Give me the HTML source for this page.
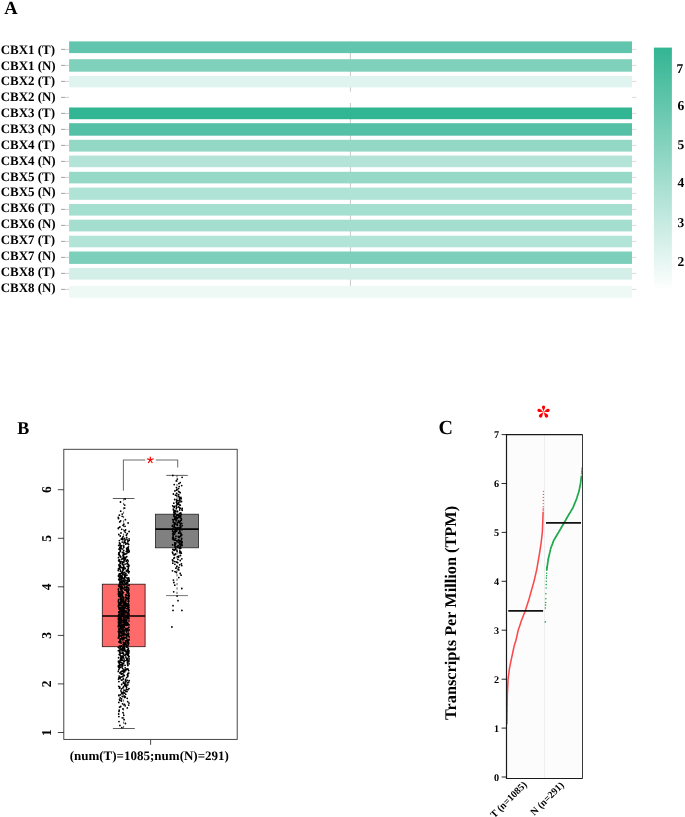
<!DOCTYPE html>
<html><head><meta charset="utf-8"><title>Figure</title>
<style>
html,body{margin:0;padding:0;background:#fff;}
body{width:685px;height:817px;overflow:hidden;font-family:"Liberation Serif",serif;}
svg{display:block;position:absolute;left:0;top:0;}
text{font-family:"Liberation Serif",serif;font-weight:bold;fill:#000;text-rendering:geometricPrecision;}
svg{will-change:transform;opacity:0.999;}
.s{font-family:"Liberation Sans",sans-serif;font-weight:normal;}
</style></head><body>
<svg width="685" height="817" viewBox="0 0 685 817">
<defs><linearGradient id="cb" x1="0" y1="0" x2="0" y2="1"><stop offset="0" stop-color="#33b593"/><stop offset="1" stop-color="#ffffff"/></linearGradient></defs>
<rect width="685" height="817" fill="#fff"/>
<text x="4.2" y="13.8" font-size="18.5">A</text>
<line x1="350.4" y1="41.4" x2="350.4" y2="286" stroke="#c9c9c9" stroke-width="1"/>
<rect x="69.1" y="41.4" width="562.9" height="11.7" fill="#62c6ae"/>
<rect x="69.1" y="59.2" width="562.9" height="12.5" fill="#80d1bc"/>
<rect x="69.1" y="76.0" width="562.9" height="11.4" fill="#dff4ee"/>
<rect x="69.1" y="91.7" width="562.9" height="11.3" fill="#ffffff"/>
<rect x="69.1" y="107.5" width="562.9" height="11.7" fill="#32b592"/>
<rect x="69.1" y="123.2" width="562.9" height="12.5" fill="#54c1a6"/>
<rect x="69.1" y="139.8" width="562.9" height="11.8" fill="#92d8c5"/>
<rect x="69.1" y="155.6" width="562.9" height="11.6" fill="#b3e4d7"/>
<rect x="69.1" y="171.8" width="562.9" height="11.6" fill="#96d9c7"/>
<rect x="69.1" y="187.6" width="562.9" height="12.2" fill="#afe3d5"/>
<rect x="69.1" y="204.0" width="562.9" height="11.6" fill="#a5dfd0"/>
<rect x="69.1" y="219.7" width="562.9" height="11.7" fill="#a3dece"/>
<rect x="69.1" y="235.7" width="562.9" height="11.6" fill="#b3e4d8"/>
<rect x="69.1" y="251.5" width="562.9" height="12.4" fill="#7ccfba"/>
<rect x="69.1" y="267.9" width="562.9" height="11.7" fill="#d3efe7"/>
<rect x="69.1" y="285.9" width="562.9" height="11.9" fill="#eef9f6"/>
<line x1="61" y1="49.4" x2="65" y2="49.4" stroke="#7a7a7a" stroke-width="0.7"/><line x1="65" y1="49.4" x2="69.1" y2="49.4" stroke="#bdbdbd" stroke-width="0.7"/><line x1="632" y1="49.4" x2="636.3" y2="49.4" stroke="#cfcfcf" stroke-width="0.7"/><text x="0.7" y="53.70" font-size="12.95">CBX1 (T)</text>
<line x1="61" y1="65.4" x2="65" y2="65.4" stroke="#7a7a7a" stroke-width="0.7"/><line x1="65" y1="65.4" x2="69.1" y2="65.4" stroke="#bdbdbd" stroke-width="0.7"/><line x1="632" y1="65.4" x2="636.3" y2="65.4" stroke="#cfcfcf" stroke-width="0.7"/><text x="0.7" y="69.56" font-size="12.95">CBX1 (N)</text>
<line x1="61" y1="81.4" x2="65" y2="81.4" stroke="#7a7a7a" stroke-width="0.7"/><line x1="65" y1="81.4" x2="69.1" y2="81.4" stroke="#bdbdbd" stroke-width="0.7"/><line x1="632" y1="81.4" x2="636.3" y2="81.4" stroke="#cfcfcf" stroke-width="0.7"/><text x="0.7" y="85.42" font-size="12.95">CBX2 (T)</text>
<line x1="61" y1="97.4" x2="65" y2="97.4" stroke="#7a7a7a" stroke-width="0.7"/><line x1="65" y1="97.4" x2="69.1" y2="97.4" stroke="#bdbdbd" stroke-width="0.7"/><line x1="632" y1="97.4" x2="636.3" y2="97.4" stroke="#cfcfcf" stroke-width="0.7"/><text x="0.7" y="101.28" font-size="12.95">CBX2 (N)</text>
<line x1="61" y1="113.4" x2="65" y2="113.4" stroke="#7a7a7a" stroke-width="0.7"/><line x1="65" y1="113.4" x2="69.1" y2="113.4" stroke="#bdbdbd" stroke-width="0.7"/><line x1="632" y1="113.4" x2="636.3" y2="113.4" stroke="#cfcfcf" stroke-width="0.7"/><text x="0.7" y="117.14" font-size="12.95">CBX3 (T)</text>
<line x1="61" y1="129.4" x2="65" y2="129.4" stroke="#7a7a7a" stroke-width="0.7"/><line x1="65" y1="129.4" x2="69.1" y2="129.4" stroke="#bdbdbd" stroke-width="0.7"/><line x1="632" y1="129.4" x2="636.3" y2="129.4" stroke="#cfcfcf" stroke-width="0.7"/><text x="0.7" y="133.00" font-size="12.95">CBX3 (N)</text>
<line x1="61" y1="145.4" x2="65" y2="145.4" stroke="#7a7a7a" stroke-width="0.7"/><line x1="65" y1="145.4" x2="69.1" y2="145.4" stroke="#bdbdbd" stroke-width="0.7"/><line x1="632" y1="145.4" x2="636.3" y2="145.4" stroke="#cfcfcf" stroke-width="0.7"/><text x="0.7" y="148.86" font-size="12.95">CBX4 (T)</text>
<line x1="61" y1="161.4" x2="65" y2="161.4" stroke="#7a7a7a" stroke-width="0.7"/><line x1="65" y1="161.4" x2="69.1" y2="161.4" stroke="#bdbdbd" stroke-width="0.7"/><line x1="632" y1="161.4" x2="636.3" y2="161.4" stroke="#cfcfcf" stroke-width="0.7"/><text x="0.7" y="164.72" font-size="12.95">CBX4 (N)</text>
<line x1="61" y1="177.4" x2="65" y2="177.4" stroke="#7a7a7a" stroke-width="0.7"/><line x1="65" y1="177.4" x2="69.1" y2="177.4" stroke="#bdbdbd" stroke-width="0.7"/><line x1="632" y1="177.4" x2="636.3" y2="177.4" stroke="#cfcfcf" stroke-width="0.7"/><text x="0.7" y="180.58" font-size="12.95">CBX5 (T)</text>
<line x1="61" y1="193.4" x2="65" y2="193.4" stroke="#7a7a7a" stroke-width="0.7"/><line x1="65" y1="193.4" x2="69.1" y2="193.4" stroke="#bdbdbd" stroke-width="0.7"/><line x1="632" y1="193.4" x2="636.3" y2="193.4" stroke="#cfcfcf" stroke-width="0.7"/><text x="0.7" y="196.44" font-size="12.95">CBX5 (N)</text>
<line x1="61" y1="209.4" x2="65" y2="209.4" stroke="#7a7a7a" stroke-width="0.7"/><line x1="65" y1="209.4" x2="69.1" y2="209.4" stroke="#bdbdbd" stroke-width="0.7"/><line x1="632" y1="209.4" x2="636.3" y2="209.4" stroke="#cfcfcf" stroke-width="0.7"/><text x="0.7" y="212.30" font-size="12.95">CBX6 (T)</text>
<line x1="61" y1="225.4" x2="65" y2="225.4" stroke="#7a7a7a" stroke-width="0.7"/><line x1="65" y1="225.4" x2="69.1" y2="225.4" stroke="#bdbdbd" stroke-width="0.7"/><line x1="632" y1="225.4" x2="636.3" y2="225.4" stroke="#cfcfcf" stroke-width="0.7"/><text x="0.7" y="228.16" font-size="12.95">CBX6 (N)</text>
<line x1="61" y1="241.4" x2="65" y2="241.4" stroke="#7a7a7a" stroke-width="0.7"/><line x1="65" y1="241.4" x2="69.1" y2="241.4" stroke="#bdbdbd" stroke-width="0.7"/><line x1="632" y1="241.4" x2="636.3" y2="241.4" stroke="#cfcfcf" stroke-width="0.7"/><text x="0.7" y="244.02" font-size="12.95">CBX7 (T)</text>
<line x1="61" y1="257.4" x2="65" y2="257.4" stroke="#7a7a7a" stroke-width="0.7"/><line x1="65" y1="257.4" x2="69.1" y2="257.4" stroke="#bdbdbd" stroke-width="0.7"/><line x1="632" y1="257.4" x2="636.3" y2="257.4" stroke="#cfcfcf" stroke-width="0.7"/><text x="0.7" y="259.88" font-size="12.95">CBX7 (N)</text>
<line x1="61" y1="273.4" x2="65" y2="273.4" stroke="#7a7a7a" stroke-width="0.7"/><line x1="65" y1="273.4" x2="69.1" y2="273.4" stroke="#bdbdbd" stroke-width="0.7"/><line x1="632" y1="273.4" x2="636.3" y2="273.4" stroke="#cfcfcf" stroke-width="0.7"/><text x="0.7" y="275.74" font-size="12.95">CBX8 (T)</text>
<line x1="61" y1="289.4" x2="65" y2="289.4" stroke="#7a7a7a" stroke-width="0.7"/><line x1="65" y1="289.4" x2="69.1" y2="289.4" stroke="#bdbdbd" stroke-width="0.7"/><line x1="632" y1="289.4" x2="636.3" y2="289.4" stroke="#cfcfcf" stroke-width="0.7"/><text x="0.7" y="291.60" font-size="12.95">CBX8 (N)</text>
<rect x="653.9" y="47.6" width="18" height="243" fill="url(#cb)"/>
<text x="676.6" y="72.5" font-size="13.5">7</text>
<text x="677.6" y="109.8" font-size="13.5">6</text>
<text x="677.6" y="148.8" font-size="13.5">5</text>
<text x="677.6" y="187.2" font-size="13.5">4</text>
<text x="677.6" y="226.8" font-size="13.5">3</text>
<text x="677.6" y="265.8" font-size="13.5">2</text>
<text x="17.2" y="433.7" font-size="18">B</text>
<rect x="63.8" y="449.3" width="173.4" height="290.1" fill="none" stroke="#333" stroke-width="0.9"/>
<line x1="57.8" y1="732.5" x2="64" y2="732.5" stroke="#333" stroke-width="0.9"/><text transform="translate(50.6,732.5) rotate(-90)" text-anchor="middle" font-size="13.5">1</text>
<line x1="57.8" y1="683.9" x2="64" y2="683.9" stroke="#333" stroke-width="0.9"/><text transform="translate(50.6,683.9) rotate(-90)" text-anchor="middle" font-size="13.5">2</text>
<line x1="57.8" y1="635.4" x2="64" y2="635.4" stroke="#333" stroke-width="0.9"/><text transform="translate(50.6,635.4) rotate(-90)" text-anchor="middle" font-size="13.5">3</text>
<line x1="57.8" y1="586.8" x2="64" y2="586.8" stroke="#333" stroke-width="0.9"/><text transform="translate(50.6,586.8) rotate(-90)" text-anchor="middle" font-size="13.5">4</text>
<line x1="57.8" y1="538.3" x2="64" y2="538.3" stroke="#333" stroke-width="0.9"/><text transform="translate(50.6,538.3) rotate(-90)" text-anchor="middle" font-size="13.5">5</text>
<line x1="57.8" y1="489.7" x2="64" y2="489.7" stroke="#333" stroke-width="0.9"/><text transform="translate(50.6,489.7) rotate(-90)" text-anchor="middle" font-size="13.5">6</text>
<line x1="150.6" y1="739.4" x2="150.6" y2="744.8" stroke="#333" stroke-width="0.9"/>
<text x="149.3" y="759.8" text-anchor="middle" font-size="13">(num(T)=1085;num(N)=291)</text>
<rect x="102.3" y="584.2" width="42.8" height="62.5" fill="#ff6b6b" stroke="#2a1010" stroke-width="0.8"/>
<rect x="155.4" y="514.2" width="43.2" height="33.6" fill="#808080" stroke="#222" stroke-width="0.8"/>
<g stroke="#333" stroke-width="0.8"><line x1="123.6" y1="498.4" x2="123.6" y2="583.9" stroke-dasharray="2.2,2.2"/><line x1="123.6" y1="646.7" x2="123.6" y2="728.5" stroke-dasharray="2.2,2.2"/><line x1="177" y1="475.2" x2="177" y2="514.2" stroke-dasharray="2.2,2.2"/><line x1="177" y1="547.8" x2="177" y2="595.7" stroke-dasharray="2.2,2.2"/><line x1="112.8" y1="498.5" x2="134.5" y2="498.5"/><line x1="112.9" y1="728.5" x2="134.8" y2="728.5"/><line x1="166.3" y1="475.4" x2="187.8" y2="475.4"/><line x1="166.1" y1="595.6" x2="188" y2="595.6" stroke="#777" stroke-width="1"/></g>
<path d="M121.8 727.6h0M119.9 725.5h0M125.4 723.5h0M119.0 721.6h0M124.1 719.7h0M122.3 717.8h0M118.9 716.6h0M123.8 715.3h0M118.7 714.0h0M123.0 712.7h0M119.0 711.4h0M119.2 710.2h0M122.9 708.9h0M127.3 707.9h0M119.6 707.2h0M120.7 706.5h0M125.2 705.8h0M128.7 705.1h0M124.6 704.4h0M122.6 703.8h0M129.0 703.1h0M118.8 702.4h0M127.7 701.7h0M121.4 701.0h0M119.8 700.3h0M119.5 699.6h0M121.6 698.9h0M127.2 698.3h0M120.2 697.9h0M124.6 697.4h0M125.3 697.0h0M122.3 696.5h0M124.3 696.1h0M118.9 695.7h0M118.9 695.2h0M120.5 694.8h0M125.7 694.3h0M123.0 693.9h0M121.7 693.4h0M124.7 693.0h0M123.2 692.5h0M121.5 692.1h0M127.0 691.6h0M125.9 691.2h0M120.9 690.8h0M124.6 690.4h0M124.0 690.1h0M127.9 689.7h0M126.3 689.3h0M121.4 688.9h0M129.0 688.6h0M119.5 688.2h0M122.8 687.8h0M126.6 687.5h0M119.9 687.1h0M123.6 686.7h0M118.7 686.3h0M125.6 686.0h0M126.7 685.6h0M124.6 685.2h0M127.9 684.8h0M121.7 684.5h0M125.9 684.1h0M124.8 683.8h0M124.6 683.5h0M123.3 683.1h0M127.5 682.8h0M128.6 682.5h0M123.5 682.2h0M125.6 681.9h0M118.9 681.6h0M126.0 681.3h0M125.4 681.0h0M129.2 680.7h0M127.3 680.4h0M121.4 680.1h0M122.5 679.8h0M125.6 679.5h0M118.5 679.1h0M123.3 678.8h0M120.1 678.5h0M119.5 678.2h0M118.9 677.9h0M126.7 677.6h0M119.7 677.3h0M121.0 677.0h0M122.6 676.7h0M127.8 676.4h0M119.1 676.1h0M123.2 675.8h0M124.3 675.5h0M128.0 675.1h0M127.3 674.8h0M127.8 674.5h0M121.3 674.2h0M122.8 673.9h0M122.2 673.6h0M128.0 673.3h0M128.8 673.1h0M119.9 672.9h0M120.2 672.7h0M120.8 672.5h0M120.8 672.3h0M123.6 672.1h0M124.7 671.8h0M121.1 671.6h0M118.3 671.4h0M122.9 671.2h0M122.3 671.0h0M124.5 670.8h0M128.7 670.6h0M125.8 670.4h0M123.9 670.2h0M125.0 670.0h0M125.7 669.8h0M118.8 669.6h0M128.1 669.4h0M126.8 669.2h0M127.9 669.0h0M127.0 668.8h0M122.6 668.6h0M122.6 668.3h0M119.4 668.1h0M125.2 667.9h0M118.9 667.7h0M119.0 667.5h0M120.5 667.3h0M120.0 667.1h0M122.0 666.9h0M118.8 666.7h0M118.3 666.5h0M119.9 666.3h0M119.4 666.1h0M122.2 665.9h0M118.5 665.7h0M127.9 665.5h0M125.0 665.3h0M119.9 665.1h0M121.0 664.8h0M122.1 664.6h0M122.3 664.4h0M119.6 664.2h0M127.6 664.0h0M129.2 663.8h0M123.4 663.6h0M123.6 663.4h0M119.2 663.2h0M119.4 663.0h0M122.0 662.8h0M121.2 662.6h0M127.4 662.4h0M120.0 662.2h0M118.5 662.0h0M128.7 661.8h0M124.1 661.7h0M119.9 661.5h0M124.2 661.4h0M118.5 661.2h0M124.1 661.1h0M129.0 660.9h0M127.7 660.7h0M125.9 660.6h0M121.1 660.4h0M122.3 660.3h0M120.1 660.1h0M126.7 660.0h0M124.1 659.8h0M126.8 659.6h0M121.9 659.5h0M120.7 659.3h0M127.2 659.2h0M129.1 659.0h0M127.6 658.9h0M127.1 658.7h0M127.3 658.5h0M126.4 658.4h0M120.7 658.2h0M123.9 658.1h0M122.2 657.9h0M118.6 657.8h0M118.6 657.6h0M121.3 657.5h0M121.1 657.3h0M125.9 657.1h0M128.8 657.0h0M123.2 656.8h0M128.6 656.7h0M129.1 656.5h0M128.8 656.4h0M122.3 656.2h0M120.7 656.0h0M120.7 655.9h0M120.4 655.7h0M120.5 655.6h0M125.1 655.4h0M128.2 655.3h0M127.5 655.1h0M123.5 654.9h0M125.4 654.8h0M127.0 654.6h0M119.2 654.5h0M125.5 654.3h0M128.3 654.2h0M126.9 654.0h0M126.5 653.8h0M123.5 653.7h0M120.2 653.5h0M126.9 653.4h0M121.9 653.2h0M127.1 653.1h0M128.9 652.9h0M122.6 652.8h0M122.7 652.6h0M128.7 652.4h0M126.2 652.3h0M120.1 652.1h0M119.6 652.0h0M119.9 651.8h0M128.2 651.7h0M127.1 651.6h0M119.9 651.5h0M127.3 651.4h0M129.0 651.3h0M125.5 651.1h0M122.1 651.0h0M124.3 650.9h0M119.7 650.8h0M118.4 650.7h0M128.9 650.6h0M125.4 650.4h0M124.0 650.3h0M128.5 650.2h0M123.0 650.1h0M127.8 650.0h0M127.3 649.9h0M120.6 649.7h0M121.0 649.6h0M121.5 649.5h0M120.9 649.4h0M124.7 649.3h0M121.1 649.2h0M122.9 649.0h0M119.7 648.9h0M128.3 648.8h0M122.1 648.7h0M123.3 648.6h0M124.7 648.5h0M128.2 648.3h0M122.9 648.2h0M128.3 648.1h0M123.8 648.0h0M124.1 647.9h0M124.0 647.8h0M118.5 647.6h0M123.1 647.5h0M120.3 647.4h0M118.3 647.3h0M127.0 647.2h0M120.1 647.1h0M123.5 646.9h0M126.2 646.8h0M124.4 646.7h0M121.8 646.6h0M124.0 646.5h0M124.4 646.4h0M126.9 646.2h0M119.4 646.1h0M124.4 646.0h0M121.0 645.9h0M121.3 645.8h0M126.7 645.7h0M123.8 645.5h0M124.4 645.4h0M126.6 645.2h0M128.3 645.1h0M123.1 644.9h0M125.0 644.8h0M123.8 644.6h0M123.9 644.5h0M125.9 644.3h0M123.2 644.2h0M124.1 644.0h0M123.5 643.8h0M128.6 643.7h0M125.9 643.5h0M127.9 643.4h0M128.6 643.2h0M121.1 643.1h0M124.4 642.9h0M128.6 642.8h0M127.5 642.6h0M119.8 642.5h0M119.6 642.3h0M123.1 642.1h0M119.0 642.0h0M120.9 641.8h0M119.1 641.7h0M125.6 641.5h0M126.9 641.4h0M128.1 641.2h0M119.9 641.1h0M126.1 640.9h0M125.5 640.8h0M119.8 640.6h0M128.0 640.5h0M128.9 640.3h0M120.7 640.1h0M128.7 640.0h0M122.6 639.8h0M123.6 639.7h0M129.1 639.5h0M127.4 639.4h0M120.0 639.2h0M123.0 639.1h0M123.9 638.9h0M122.0 638.8h0M120.4 638.6h0M121.8 638.5h0M126.2 638.3h0M118.5 638.1h0M124.3 638.0h0M123.1 637.8h0M118.4 637.7h0M121.9 637.5h0M125.1 637.4h0M123.9 637.2h0M119.0 637.1h0M129.1 636.9h0M126.9 636.8h0M128.9 636.6h0M119.4 636.4h0M121.2 636.3h0M118.7 636.1h0M126.8 636.0h0M121.2 635.8h0M119.7 635.7h0M122.9 635.5h0M128.3 635.4h0M127.3 635.3h0M121.1 635.2h0M119.9 635.1h0M128.4 635.0h0M124.5 634.9h0M126.0 634.8h0M119.2 634.7h0M118.9 634.6h0M125.8 634.5h0M122.9 634.4h0M119.0 634.3h0M128.6 634.2h0M125.2 634.1h0M127.1 634.0h0M119.2 633.9h0M127.7 633.8h0M119.0 633.7h0M127.7 633.6h0M123.2 633.5h0M122.0 633.4h0M124.3 633.3h0M128.4 633.2h0M121.2 633.1h0M119.7 633.0h0M124.0 632.9h0M120.9 632.8h0M119.5 632.7h0M120.0 632.6h0M118.8 632.5h0M120.5 632.4h0M121.7 632.3h0M121.6 632.2h0M126.6 632.1h0M121.4 632.0h0M123.8 631.9h0M120.2 631.8h0M122.1 631.7h0M118.4 631.6h0M121.0 631.5h0M118.4 631.4h0M126.3 631.2h0M124.3 631.1h0M120.3 631.0h0M123.5 630.9h0M128.5 630.8h0M119.4 630.7h0M127.3 630.6h0M123.0 630.5h0M123.7 630.4h0M127.4 630.3h0M122.6 630.2h0M123.8 630.1h0M125.8 630.0h0M129.1 629.9h0M122.0 629.8h0M127.4 629.7h0M126.0 629.6h0M125.2 629.5h0M122.7 629.4h0M122.1 629.3h0M118.8 629.2h0M119.7 629.1h0M119.0 629.0h0M126.4 628.9h0M121.1 628.8h0M120.0 628.7h0M119.2 628.6h0M127.5 628.5h0M127.8 628.4h0M125.6 628.3h0M121.4 628.2h0M120.9 628.1h0M121.5 628.0h0M123.3 627.9h0M120.0 627.8h0M123.2 627.7h0M121.1 627.6h0M128.8 627.5h0M128.9 627.4h0M124.3 627.3h0M120.9 627.2h0M128.9 627.1h0M121.7 627.0h0M122.2 626.9h0M118.3 626.8h0M122.4 626.7h0M123.5 626.6h0M123.8 626.5h0M120.5 626.4h0M123.8 626.3h0M118.3 626.2h0M121.2 626.1h0M119.2 626.0h0M122.6 625.9h0M118.7 625.8h0M118.5 625.7h0M121.6 625.6h0M120.8 625.5h0M124.7 625.5h0M124.1 625.4h0M126.5 625.3h0M125.5 625.2h0M126.1 625.1h0M127.9 625.0h0M122.5 624.9h0M121.8 624.9h0M129.1 624.8h0M119.9 624.7h0M126.2 624.6h0M125.3 624.5h0M118.7 624.4h0M127.4 624.3h0M128.1 624.3h0M125.2 624.2h0M126.3 624.1h0M127.2 624.0h0M119.8 623.9h0M124.0 623.8h0M123.8 623.8h0M127.4 623.7h0M127.1 623.6h0M127.3 623.5h0M124.7 623.4h0M128.1 623.3h0M125.8 623.2h0M125.9 623.2h0M120.8 623.1h0M118.6 623.0h0M119.7 622.9h0M122.2 622.8h0M119.4 622.7h0M127.4 622.6h0M124.4 622.6h0M125.2 622.5h0M125.1 622.4h0M125.7 622.3h0M123.6 622.2h0M118.3 622.1h0M127.0 622.1h0M126.5 622.0h0M123.8 621.9h0M124.1 621.8h0M125.5 621.7h0M119.0 621.6h0M126.4 621.5h0M121.0 621.5h0M119.1 621.4h0M121.2 621.3h0M126.3 621.2h0M120.5 621.1h0M126.4 621.0h0M129.0 620.9h0M123.7 620.9h0M122.5 620.8h0M123.5 620.7h0M125.8 620.6h0M126.7 620.5h0M125.0 620.4h0M125.3 620.4h0M119.1 620.3h0M119.9 620.2h0M121.0 620.1h0M126.4 620.0h0M121.6 619.9h0M124.5 619.8h0M118.4 619.8h0M118.9 619.7h0M121.2 619.6h0M125.6 619.5h0M125.9 619.4h0M125.7 619.3h0M121.4 619.2h0M123.9 619.2h0M123.4 619.1h0M123.4 619.0h0M119.6 618.9h0M128.1 618.8h0M120.4 618.7h0M129.0 618.7h0M128.5 618.6h0M118.4 618.5h0M123.3 618.4h0M127.3 618.3h0M128.9 618.2h0M123.2 618.1h0M121.2 618.1h0M120.6 618.0h0M128.7 617.9h0M120.6 617.8h0M124.6 617.7h0M119.8 617.6h0M124.0 617.5h0M128.7 617.5h0M119.7 617.4h0M127.3 617.3h0M123.8 617.2h0M128.0 617.1h0M126.0 617.0h0M120.8 617.0h0M128.1 616.9h0M123.6 616.8h0M118.5 616.7h0M118.3 616.6h0M123.7 616.5h0M123.2 616.4h0M121.6 616.3h0M119.8 616.2h0M122.0 616.1h0M121.7 616.0h0M127.5 615.9h0M118.3 615.8h0M126.5 615.7h0M127.5 615.6h0M119.6 615.5h0M128.4 615.4h0M126.1 615.3h0M128.2 615.2h0M121.4 615.1h0M122.3 615.0h0M122.6 614.9h0M129.2 614.8h0M124.7 614.7h0M122.2 614.6h0M123.0 614.5h0M121.3 614.4h0M118.8 614.3h0M119.4 614.2h0M127.4 614.1h0M121.4 614.0h0M128.5 613.9h0M121.0 613.8h0M121.2 613.7h0M123.9 613.6h0M120.3 613.5h0M122.4 613.4h0M128.8 613.3h0M128.0 613.1h0M127.2 613.0h0M125.2 612.9h0M128.3 612.8h0M128.6 612.7h0M124.3 612.6h0M126.2 612.5h0M118.8 612.4h0M126.3 612.3h0M123.2 612.2h0M126.5 612.1h0M125.3 612.0h0M121.4 611.9h0M118.8 611.8h0M128.4 611.7h0M119.7 611.6h0M123.4 611.5h0M122.0 611.4h0M121.5 611.3h0M126.4 611.2h0M129.0 611.1h0M121.1 611.0h0M125.5 610.9h0M121.6 610.8h0M124.4 610.7h0M122.6 610.6h0M120.1 610.5h0M120.0 610.4h0M120.5 610.3h0M128.2 610.2h0M123.7 610.1h0M120.7 610.0h0M128.2 609.9h0M129.2 609.8h0M123.2 609.6h0M119.8 609.5h0M120.4 609.4h0M119.2 609.3h0M122.0 609.2h0M119.3 609.1h0M120.9 609.0h0M121.1 608.9h0M124.5 608.8h0M128.0 608.7h0M126.5 608.6h0M122.8 608.5h0M122.8 608.4h0M124.0 608.3h0M122.4 608.2h0M122.0 608.1h0M118.9 608.0h0M121.3 607.9h0M128.9 607.8h0M119.6 607.7h0M123.8 607.6h0M125.2 607.5h0M127.7 607.4h0M120.6 607.3h0M121.2 607.2h0M121.0 607.1h0M122.6 607.0h0M123.2 606.9h0M128.7 606.8h0M127.6 606.7h0M127.9 606.6h0M118.5 606.5h0M118.6 606.4h0M126.1 606.3h0M128.1 606.1h0M123.5 606.0h0M124.7 605.9h0M118.3 605.8h0M122.6 605.7h0M128.4 605.6h0M127.3 605.5h0M127.7 605.4h0M128.9 605.3h0M121.0 605.2h0M119.4 605.1h0M119.9 605.0h0M124.0 604.9h0M125.8 604.7h0M128.6 604.6h0M126.2 604.5h0M125.4 604.4h0M126.7 604.3h0M123.3 604.1h0M124.3 604.0h0M118.7 603.9h0M126.9 603.8h0M120.8 603.7h0M128.4 603.5h0M125.4 603.4h0M121.6 603.3h0M119.7 603.2h0M121.0 603.1h0M125.2 603.0h0M125.9 602.8h0M119.5 602.7h0M119.0 602.6h0M124.0 602.5h0M124.7 602.4h0M122.5 602.2h0M120.7 602.1h0M124.9 602.0h0M118.4 601.9h0M121.6 601.8h0M123.3 601.6h0M128.8 601.5h0M125.3 601.4h0M128.0 601.3h0M123.5 601.2h0M120.8 601.1h0M121.0 600.9h0M128.8 600.8h0M126.0 600.7h0M121.6 600.6h0M118.5 600.5h0M123.7 600.3h0M125.7 600.2h0M122.9 600.1h0M121.1 600.0h0M125.6 599.9h0M128.4 599.7h0M120.7 599.6h0M118.6 599.5h0M122.0 599.4h0M122.9 599.3h0M125.8 599.1h0M120.4 599.0h0M127.0 598.9h0M126.4 598.8h0M123.8 598.7h0M120.5 598.6h0M128.9 598.4h0M121.7 598.3h0M127.3 598.2h0M120.8 598.1h0M120.7 598.0h0M126.6 597.8h0M121.5 597.7h0M128.7 597.6h0M123.7 597.5h0M120.3 597.4h0M120.7 597.2h0M122.8 597.1h0M125.6 597.0h0M128.7 596.9h0M119.9 596.8h0M122.6 596.7h0M120.6 596.5h0M129.0 596.4h0M119.8 596.3h0M118.8 596.2h0M118.9 596.1h0M122.6 595.9h0M128.1 595.8h0M128.0 595.7h0M126.3 595.6h0M129.2 595.5h0M128.5 595.3h0M121.9 595.2h0M120.3 595.1h0M128.5 595.0h0M126.5 594.9h0M118.6 594.7h0M125.6 594.6h0M122.4 594.5h0M122.4 594.4h0M121.9 594.3h0M120.1 594.2h0M118.3 594.0h0M121.3 593.9h0M122.1 593.8h0M128.8 593.7h0M119.6 593.6h0M128.9 593.4h0M120.5 593.3h0M122.2 593.2h0M127.3 593.1h0M127.3 593.0h0M123.0 592.8h0M118.8 592.7h0M123.5 592.6h0M122.3 592.5h0M128.4 592.4h0M120.4 592.2h0M122.3 592.1h0M128.1 592.0h0M118.6 591.9h0M122.8 591.8h0M127.2 591.7h0M126.7 591.5h0M118.7 591.4h0M118.6 591.3h0M118.9 591.2h0M128.4 591.1h0M121.1 590.9h0M126.5 590.8h0M128.1 590.7h0M122.0 590.6h0M121.2 590.5h0M128.8 590.3h0M125.0 590.2h0M121.1 590.1h0M126.1 590.0h0M121.7 589.9h0M121.3 589.8h0M118.3 589.6h0M126.6 589.5h0M128.3 589.4h0M125.2 589.3h0M128.6 589.2h0M118.5 589.0h0M120.8 588.9h0M123.5 588.8h0M128.8 588.7h0M128.7 588.6h0M122.5 588.4h0M121.0 588.3h0M123.0 588.2h0M123.7 588.1h0M128.5 588.0h0M120.3 587.8h0M127.1 587.7h0M126.4 587.6h0M127.3 587.5h0M126.8 587.4h0M124.9 587.3h0M121.9 587.1h0M121.8 587.0h0M122.2 586.9h0M126.9 586.8h0M119.1 586.6h0M120.4 586.5h0M126.5 586.3h0M121.0 586.2h0M119.0 586.0h0M118.6 585.9h0M124.3 585.8h0M121.8 585.6h0M129.0 585.5h0M128.0 585.3h0M129.1 585.2h0M121.2 585.0h0M119.2 584.9h0M119.3 584.7h0M123.7 584.6h0M126.1 584.4h0M123.2 584.3h0M120.8 584.2h0M122.8 584.0h0M125.1 583.9h0M125.7 583.7h0M126.5 583.6h0M127.6 583.4h0M125.6 583.3h0M119.6 583.1h0M127.5 583.0h0M121.5 582.8h0M124.5 582.7h0M122.4 582.6h0M126.4 582.4h0M120.4 582.3h0M121.0 582.1h0M120.9 582.0h0M119.9 581.8h0M128.0 581.7h0M124.6 581.5h0M121.8 581.4h0M122.6 581.2h0M129.2 581.1h0M123.8 581.0h0M120.8 580.8h0M127.1 580.7h0M125.4 580.5h0M129.2 580.4h0M119.4 580.2h0M123.5 580.1h0M127.3 579.9h0M127.5 579.8h0M128.3 579.6h0M118.7 579.5h0M121.5 579.4h0M119.6 579.2h0M120.3 579.1h0M129.0 578.9h0M124.7 578.8h0M128.5 578.6h0M122.3 578.5h0M127.8 578.3h0M123.2 578.2h0M121.1 578.1h0M126.8 577.9h0M128.7 577.8h0M119.4 577.6h0M124.8 577.5h0M125.1 577.3h0M120.6 577.2h0M122.3 577.0h0M119.8 576.9h0M120.5 576.7h0M121.1 576.6h0M124.8 576.5h0M125.4 576.3h0M120.5 576.2h0M118.4 576.0h0M121.8 575.9h0M125.7 575.7h0M120.3 575.6h0M121.7 575.4h0M120.5 575.3h0M127.0 575.1h0M124.3 575.0h0M118.9 574.9h0M119.4 574.7h0M122.6 574.5h0M124.3 574.3h0M125.3 574.1h0M119.3 573.9h0M120.1 573.7h0M125.9 573.5h0M122.8 573.3h0M121.4 573.2h0M121.6 573.0h0M128.7 572.8h0M121.7 572.6h0M124.5 572.4h0M122.2 572.2h0M122.8 572.0h0M127.8 571.8h0M129.2 571.6h0M122.3 571.4h0M120.4 571.2h0M126.3 571.0h0M120.5 570.8h0M118.3 570.6h0M128.2 570.4h0M122.9 570.2h0M127.3 570.0h0M122.7 569.8h0M128.0 569.6h0M123.3 569.4h0M120.0 569.2h0M118.4 569.0h0M124.3 568.8h0M125.3 568.6h0M128.3 568.5h0M119.2 568.3h0M125.1 568.1h0M122.3 567.9h0M123.8 567.7h0M119.9 567.5h0M121.4 567.3h0M124.0 567.1h0M128.4 566.9h0M119.4 566.7h0M123.6 566.5h0M127.1 566.3h0M128.9 566.1h0M120.4 565.9h0M119.6 565.7h0M128.6 565.5h0M129.0 565.3h0M123.6 565.1h0M118.8 564.9h0M128.4 564.7h0M122.5 564.5h0M128.2 564.3h0M125.1 564.1h0M127.3 563.9h0M120.0 563.8h0M126.9 563.6h0M120.7 563.4h0M122.7 563.2h0M127.6 563.0h0M127.4 562.8h0M120.3 562.6h0M120.6 562.4h0M122.6 562.2h0M123.9 562.0h0M122.5 561.8h0M119.6 561.6h0M121.0 561.4h0M126.2 561.2h0M128.1 561.0h0M118.7 560.8h0M124.4 560.6h0M126.6 560.4h0M118.7 560.2h0M127.5 560.0h0M119.5 559.8h0M124.8 559.6h0M124.3 559.4h0M125.1 559.3h0M121.6 559.1h0M122.9 558.9h0M124.7 558.7h0M122.9 558.5h0M125.5 558.3h0M123.2 558.1h0M123.1 557.9h0M118.5 557.7h0M125.1 557.5h0M123.6 557.2h0M120.8 557.0h0M126.6 556.8h0M126.8 556.6h0M123.3 556.3h0M120.2 556.1h0M123.5 555.9h0M119.4 555.7h0M119.7 555.4h0M123.0 555.2h0M119.3 555.0h0M123.1 554.8h0M123.9 554.6h0M118.7 554.3h0M125.3 554.1h0M119.2 553.9h0M126.3 553.7h0M126.8 553.4h0M123.9 553.2h0M118.8 553.0h0M123.8 552.8h0M122.4 552.5h0M128.7 552.3h0M119.7 552.1h0M127.7 551.9h0M129.2 551.6h0M126.3 551.4h0M127.2 551.2h0M120.4 551.0h0M129.0 550.7h0M123.7 550.5h0M128.8 550.3h0M128.3 550.1h0M120.1 549.9h0M126.9 549.6h0M128.5 549.4h0M119.0 549.2h0M122.1 549.0h0M126.6 548.7h0M120.0 548.5h0M128.1 548.3h0M121.3 548.1h0M127.2 547.8h0M119.8 547.5h0M123.8 547.2h0M128.4 546.9h0M120.5 546.6h0M121.1 546.3h0M123.8 546.0h0M121.8 545.7h0M118.7 545.4h0M120.3 545.1h0M120.0 544.8h0M128.6 544.5h0M125.7 544.2h0M128.1 543.9h0M120.1 543.6h0M126.9 543.3h0M119.5 543.0h0M124.1 542.7h0M125.2 542.4h0M122.2 542.1h0M127.9 541.8h0M124.4 541.5h0M124.6 541.2h0M128.0 540.9h0M119.4 540.6h0M129.2 540.3h0M125.2 540.0h0M122.6 539.7h0M127.0 539.4h0M121.2 539.1h0M129.1 538.8h0M124.6 538.5h0M122.2 538.2h0M126.7 537.5h0M123.1 536.7h0M120.2 536.0h0M126.4 535.2h0M118.8 534.5h0M127.3 533.7h0M121.0 533.0h0M125.3 532.3h0M129.1 531.5h0M124.7 530.8h0M125.6 530.0h0M121.7 529.3h0M118.3 528.5h0M118.6 527.8h0M119.9 527.0h0M125.0 526.3h0M123.0 525.3h0M123.9 524.1h0M128.1 523.0h0M119.7 521.9h0M120.7 520.8h0M125.4 519.7h0M118.5 518.5h0M118.3 517.4h0M122.2 516.3h0M119.4 515.2h0M122.2 514.1h0M120.7 511.2h0M124.7 508.1h0M124.7 505.1h0M120.5 502.0h0M125.1 499.0h0" stroke="#000" stroke-width="1.8" stroke-linecap="round" fill="none"/>
<path d="M178.0 600.7h0M173.0 605.7h0M173.0 610.4h0M181.9 610.4h0M171.9 627.0h0M177.1 596.1h0M173.7 591.8h0M181.8 588.5h0M174.8 585.2h0M173.9 582.5h0M173.4 580.1h0M178.8 577.6h0M181.1 575.2h0M180.2 573.4h0M176.4 572.5h0M175.0 571.6h0M172.5 570.8h0M178.8 569.9h0M178.0 569.1h0M175.9 568.2h0M178.9 567.4h0M176.8 566.5h0M181.8 565.6h0M179.7 564.8h0M174.9 564.3h0M181.4 563.8h0M172.8 563.2h0M177.7 562.7h0M176.5 562.1h0M174.8 561.6h0M173.0 561.0h0M180.2 560.5h0M172.5 559.9h0M177.9 559.4h0M181.8 558.8h0M173.8 558.3h0M174.4 557.7h0M178.5 557.2h0M177.5 556.6h0M178.8 556.1h0M180.5 555.5h0M174.1 555.0h0M175.5 554.4h0M175.4 553.9h0M172.9 553.5h0M181.3 553.2h0M180.2 552.9h0M179.6 552.6h0M172.5 552.2h0M180.8 551.9h0M179.9 551.6h0M177.1 551.3h0M179.8 551.0h0M176.9 550.6h0M174.7 550.3h0M173.5 550.0h0M174.7 549.7h0M172.8 549.3h0M175.8 549.0h0M179.9 548.7h0M179.4 548.4h0M180.9 548.1h0M179.5 547.7h0M175.1 547.4h0M177.9 547.1h0M176.8 546.8h0M180.3 546.4h0M177.6 546.1h0M175.1 545.9h0M178.8 545.7h0M182.1 545.5h0M174.6 545.3h0M181.2 545.0h0M172.6 544.8h0M175.0 544.6h0M174.8 544.4h0M179.8 544.2h0M181.8 544.0h0M179.9 543.8h0M175.7 543.6h0M181.2 543.4h0M175.7 543.2h0M174.8 542.9h0M181.5 542.7h0M178.7 542.5h0M179.3 542.3h0M179.1 542.1h0M182.2 541.9h0M177.1 541.7h0M180.8 541.5h0M179.4 541.3h0M181.0 541.0h0M176.8 540.8h0M179.6 540.6h0M178.1 540.4h0M175.5 540.2h0M174.5 540.0h0M178.6 539.8h0M173.2 539.6h0M181.5 539.4h0M173.8 539.2h0M172.7 538.9h0M173.5 538.7h0M181.7 538.5h0M175.8 538.3h0M173.8 538.1h0M172.7 537.9h0M172.8 537.7h0M179.3 537.5h0M178.7 537.2h0M179.4 537.0h0M179.8 536.8h0M173.1 536.6h0M178.3 536.4h0M176.0 536.2h0M180.6 536.0h0M180.6 535.7h0M181.3 535.5h0M173.1 535.3h0M181.1 535.1h0M181.5 534.9h0M181.8 534.7h0M173.5 534.5h0M174.5 534.2h0M173.5 534.0h0M172.7 533.8h0M180.9 533.6h0M180.5 533.4h0M178.7 533.2h0M180.7 533.0h0M178.7 532.7h0M175.3 532.5h0M173.4 532.3h0M173.4 532.1h0M180.0 531.9h0M174.4 531.7h0M175.6 531.5h0M176.6 531.2h0M172.6 531.0h0M175.0 530.8h0M175.2 530.6h0M179.6 530.4h0M176.1 530.2h0M175.6 529.9h0M182.0 529.7h0M177.4 529.5h0M180.9 529.3h0M178.6 529.1h0M172.7 528.9h0M176.5 528.6h0M176.8 528.4h0M180.1 528.2h0M175.9 528.0h0M179.4 527.8h0M177.8 527.6h0M174.6 527.3h0M181.0 527.1h0M173.3 526.9h0M180.6 526.7h0M174.1 526.5h0M172.4 526.2h0M174.4 526.0h0M180.0 525.8h0M182.2 525.6h0M172.4 525.4h0M177.3 525.2h0M177.3 524.9h0M180.4 524.7h0M174.2 524.5h0M177.3 524.3h0M175.9 524.1h0M180.7 523.8h0M175.0 523.6h0M181.8 523.4h0M175.2 523.2h0M174.5 523.0h0M179.4 522.8h0M177.4 522.5h0M173.5 522.3h0M178.8 522.1h0M173.2 521.9h0M180.3 521.7h0M179.4 521.4h0M180.3 521.2h0M178.7 521.0h0M176.0 520.8h0M176.4 520.6h0M176.3 520.4h0M181.3 520.2h0M173.3 520.0h0M181.3 519.8h0M172.7 519.6h0M174.5 519.4h0M175.0 519.1h0M181.4 518.9h0M177.4 518.7h0M176.2 518.5h0M181.2 518.3h0M174.7 518.1h0M177.0 517.9h0M177.7 517.7h0M179.9 517.5h0M179.9 517.3h0M178.9 517.1h0M175.9 516.8h0M175.7 516.6h0M174.0 516.4h0M180.8 516.2h0M179.0 516.0h0M179.8 515.8h0M174.1 515.6h0M176.8 515.4h0M180.1 515.2h0M178.2 515.0h0M173.7 514.8h0M177.0 514.6h0M181.3 514.3h0M174.8 514.1h0M174.3 513.9h0M175.4 513.6h0M179.4 513.3h0M180.8 513.0h0M173.9 512.7h0M174.0 512.4h0M174.9 512.1h0M175.7 511.8h0M177.6 511.5h0M174.0 511.2h0M175.7 510.9h0M174.3 510.6h0M182.2 510.3h0M179.7 510.0h0M173.4 509.7h0M182.0 509.4h0M173.4 509.1h0M176.2 508.8h0M182.2 508.5h0M180.3 508.2h0M179.7 507.9h0M176.7 507.6h0M174.4 507.3h0M178.8 507.0h0M173.5 506.7h0M174.5 506.4h0M176.3 506.1h0M172.7 505.8h0M176.4 505.5h0M180.3 505.2h0M179.3 504.8h0M177.4 504.4h0M178.7 504.0h0M177.0 503.6h0M173.8 503.2h0M178.4 502.7h0M176.4 502.3h0M179.8 501.9h0M181.5 501.5h0M176.7 501.1h0M178.1 500.7h0M179.9 500.3h0M176.6 499.9h0M174.7 499.5h0M179.6 499.1h0M181.2 498.7h0M180.1 498.3h0M179.4 497.9h0M180.9 497.5h0M179.2 497.1h0M178.8 496.5h0M176.9 495.9h0M175.5 495.2h0M178.7 494.6h0M173.4 494.0h0M176.6 493.4h0M180.2 492.7h0M179.5 492.1h0M178.7 491.5h0M174.9 490.9h0M176.6 490.2h0M177.0 489.6h0M178.6 488.6h0M176.5 487.6h0M179.2 486.6h0M181.7 485.6h0M174.2 484.6h0M178.9 483.6h0M180.2 482.6h0M176.3 480.9h0M177.3 479.1h0M182.1 477.3h0M172.8 475.5h0" stroke="#000" stroke-width="1.8" stroke-linecap="round" fill="none"/>
<line x1="102.3" y1="616.0" x2="145.1" y2="616.0" stroke="#000" stroke-width="1.7"/><line x1="155.4" y1="529.1" x2="198.6" y2="529.1" stroke="#000" stroke-width="1.7"/>
<path d="M123.4 490.8V459.9H145.3M155.9 459.9H177.7V467.5" fill="none" stroke="#6e6e6e" stroke-width="1.05"/>
<path d="M150.3 459.9V456.7M150.3 459.9L146.9 458.8M150.3 459.9L153.7 458.8M150.3 459.9L148.2 463M150.3 459.9L152.4 463" fill="none" stroke="#ff0000" stroke-width="1.2"/>
<text x="438.6" y="433.7" font-size="20">C</text>
<g transform="translate(543.55,411.85)" fill="#ff0000"><path transform="rotate(0) scale(1.0)" d="M0 0C-0.25 -2 -1.65 -3.4 -1.65 -4.75A1.65 1.65 0 1 1 1.65 -4.75C1.65 -3.4 0.25 -2 0 0Z"/><path transform="rotate(72) scale(1.0)" d="M0 0C-0.25 -2 -1.65 -3.4 -1.65 -4.75A1.65 1.65 0 1 1 1.65 -4.75C1.65 -3.4 0.25 -2 0 0Z"/><path transform="rotate(-72) scale(1.0)" d="M0 0C-0.25 -2 -1.65 -3.4 -1.65 -4.75A1.65 1.65 0 1 1 1.65 -4.75C1.65 -3.4 0.25 -2 0 0Z"/><path transform="rotate(144) scale(1.06)" d="M0 0C-0.25 -2 -1.65 -3.4 -1.65 -4.75A1.65 1.65 0 1 1 1.65 -4.75C1.65 -3.4 0.25 -2 0 0Z"/><path transform="rotate(-144) scale(1.06)" d="M0 0C-0.25 -2 -1.65 -3.4 -1.65 -4.75A1.65 1.65 0 1 1 1.65 -4.75C1.65 -3.4 0.25 -2 0 0Z"/></g>
<rect x="506.5" y="434.6" width="76.1" height="343.4" fill="#fcfcfc"/>
<line x1="544.5" y1="434.6" x2="544.5" y2="778" stroke="#eeeeee" stroke-width="1"/>
<path d="M506.9 724.2L506.9 721.7L507.0 719.2L507.0 716.7L507.0 714.2L507.1 711.9L507.1 709.6L507.1 707.4L507.2 705.1L507.2 702.9L507.2 700.6L507.3 698.4L507.3 696.1L507.3 693.9L507.4 693.2L507.4 692.6L507.4 691.9L507.5 691.3L507.5 690.6L507.5 690.0L507.6 689.3L507.6 688.7L507.6 688.0L507.7 687.4L507.7 686.7L507.7 686.1L507.8 685.5L507.8 684.8L507.8 684.2L507.9 683.5L507.9 682.9L507.9 682.2L508.0 681.6L508.0 680.9L508.0 680.3L508.1 679.7L508.1 679.1L508.1 678.8L508.2 678.6L508.2 678.3L508.2 678.0L508.3 677.8L508.3 677.5L508.3 677.2L508.4 677.0L508.4 676.7L508.4 676.4L508.5 676.1L508.5 675.9L508.5 675.6L508.6 675.3L508.6 675.1L508.7 674.8L508.7 674.5L508.7 674.3L508.8 674.0L508.8 673.7L508.8 673.5L508.9 673.2L508.9 672.9L508.9 672.7L509.0 672.4L509.0 672.1L509.0 671.9L509.1 671.6L509.1 671.3L509.1 671.0L509.2 670.8L509.2 670.5L509.2 670.2L509.3 670.0L509.3 669.7L509.3 669.4L509.4 669.2L509.4 668.9L509.4 668.6L509.5 668.4L509.5 668.2L509.5 668.1L509.6 667.9L509.6 667.7L509.6 667.6L509.7 667.4L509.7 667.2L509.7 667.1L509.8 666.9L509.8 666.7L509.8 666.6L509.9 666.4L509.9 666.3L509.9 666.1L510.0 665.9L510.0 665.8L510.0 665.6L510.1 665.4L510.1 665.3L510.1 665.1L510.2 664.9L510.2 664.8L510.2 664.6L510.3 664.5L510.3 664.3L510.3 664.1L510.4 664.0L510.4 663.8L510.4 663.6L510.5 663.5L510.5 663.3L510.5 663.1L510.6 663.0L510.6 662.8L510.6 662.7L510.7 662.5L510.7 662.3L510.7 662.2L510.8 662.0L510.8 661.8L510.8 661.7L510.9 661.5L510.9 661.4L510.9 661.2L511.0 661.0L511.0 660.9L511.0 660.7L511.1 660.5L511.1 660.4L511.1 660.2L511.2 660.0L511.2 659.9L511.2 659.7L511.3 659.6L511.3 659.4L511.3 659.2L511.4 659.1L511.4 658.9L511.4 658.7L511.5 658.6L511.5 658.4L511.5 658.2L511.6 658.1L511.6 657.9L511.6 657.8L511.7 657.6L511.7 657.5L511.7 657.3L511.8 657.1L511.8 657.0L511.8 656.8L511.9 656.7L511.9 656.5L512.0 656.4L512.0 656.2L512.0 656.0L512.1 655.9L512.1 655.7L512.1 655.6L512.2 655.4L512.2 655.3L512.2 655.1L512.3 655.0L512.3 654.8L512.3 654.6L512.4 654.5L512.4 654.3L512.4 654.2L512.5 654.0L512.5 653.9L512.5 653.7L512.6 653.5L512.6 653.4L512.6 653.2L512.7 653.1L512.7 652.9L512.7 652.8L512.8 652.6L512.8 652.4L512.8 652.3L512.9 652.1L512.9 652.0L512.9 651.8L513.0 651.7L513.0 651.5L513.0 651.3L513.1 651.2L513.1 651.0L513.1 650.9L513.2 650.7L513.2 650.6L513.2 650.4L513.3 650.3L513.3 650.1L513.3 649.9L513.4 649.8L513.4 649.6L513.4 649.5L513.5 649.3L513.5 649.2L513.5 649.0L513.6 648.8L513.6 648.7L513.6 648.5L513.7 648.4L513.7 648.2L513.7 648.1L513.8 647.9L513.8 647.7L513.8 647.6L513.9 647.4L513.9 647.3L513.9 647.1L514.0 647.0L514.0 646.8L514.0 646.6L514.1 646.5L514.1 646.3L514.1 646.2L514.2 646.0L514.2 645.9L514.2 645.8L514.3 645.7L514.3 645.5L514.3 645.4L514.4 645.3L514.4 645.2L514.4 645.1L514.5 645.0L514.5 644.9L514.5 644.8L514.6 644.7L514.6 644.6L514.6 644.5L514.7 644.4L514.7 644.2L514.7 644.1L514.8 644.0L514.8 643.9L514.8 643.8L514.9 643.7L514.9 643.6L514.9 643.5L515.0 643.4L515.0 643.3L515.0 643.2L515.1 643.1L515.1 642.9L515.1 642.8L515.2 642.7L515.2 642.6L515.3 642.5L515.3 642.4L515.3 642.3L515.4 642.2L515.4 642.1L515.4 642.0L515.5 641.9L515.5 641.8L515.5 641.6L515.6 641.5L515.6 641.4L515.6 641.3L515.7 641.2L515.7 641.1L515.7 641.0L515.8 640.9L515.8 640.8L515.8 640.7L515.9 640.6L515.9 640.5L515.9 640.3L516.0 640.2L516.0 640.1L516.0 640.0L516.1 639.9L516.1 639.7L516.1 639.6L516.2 639.4L516.2 639.3L516.2 639.1L516.3 639.0L516.3 638.8L516.3 638.7L516.4 638.5L516.4 638.4L516.4 638.2L516.5 638.1L516.5 638.0L516.5 637.8L516.6 637.7L516.6 637.5L516.6 637.4L516.7 637.2L516.7 637.1L516.7 636.9L516.8 636.8L516.8 636.6L516.8 636.5L516.9 636.3L516.9 636.2L516.9 636.0L517.0 635.9L517.0 635.7L517.0 635.6L517.1 635.4L517.1 635.3L517.1 635.1L517.2 635.0L517.2 634.8L517.2 634.7L517.3 634.5L517.3 634.4L517.3 634.3L517.4 634.1L517.4 634.0L517.4 633.8L517.5 633.7L517.5 633.5L517.5 633.4L517.6 633.2L517.6 633.1L517.6 632.9L517.7 632.8L517.7 632.6L517.7 632.5L517.8 632.3L517.8 632.2L517.8 632.0L517.9 631.9L517.9 631.7L517.9 631.6L518.0 631.4L518.0 631.3L518.0 631.1L518.1 631.0L518.1 630.9L518.1 630.7L518.2 630.6L518.2 630.4L518.2 630.3L518.3 630.2L518.3 630.0L518.3 629.9L518.4 629.8L518.4 629.7L518.4 629.6L518.5 629.5L518.5 629.4L518.6 629.3L518.6 629.2L518.6 629.1L518.7 629.0L518.7 628.9L518.7 628.8L518.8 628.7L518.8 628.6L518.8 628.5L518.9 628.4L518.9 628.3L518.9 628.2L519.0 628.1L519.0 628.0L519.0 627.9L519.1 627.8L519.1 627.7L519.1 627.6L519.2 627.5L519.2 627.4L519.2 627.3L519.3 627.2L519.3 627.1L519.3 627.0L519.4 626.9L519.4 626.8L519.4 626.7L519.5 626.6L519.5 626.5L519.5 626.4L519.6 626.3L519.6 626.2L519.6 626.1L519.7 626.0L519.7 625.9L519.7 625.8L519.8 625.7L519.8 625.6L519.8 625.5L519.9 625.4L519.9 625.3L519.9 625.2L520.0 625.1L520.0 625.0L520.0 624.9L520.1 624.8L520.1 624.7L520.1 624.6L520.2 624.5L520.2 624.4L520.2 624.3L520.3 624.2L520.3 624.1L520.3 624.0L520.4 623.9L520.4 623.8L520.4 623.7L520.5 623.6L520.5 623.5L520.5 623.4L520.6 623.3L520.6 623.2L520.6 623.1L520.7 623.0L520.7 622.8L520.7 622.7L520.8 622.6L520.8 622.5L520.8 622.4L520.9 622.3L520.9 622.2L520.9 622.1L521.0 622.0L521.0 621.9L521.0 621.8L521.1 621.7L521.1 621.6L521.1 621.5L521.2 621.4L521.2 621.3L521.2 621.2L521.3 621.1L521.3 621.0L521.3 620.9L521.4 620.8L521.4 620.7L521.4 620.6L521.5 620.5L521.5 620.4L521.5 620.3L521.6 620.3L521.6 620.2L521.6 620.1L521.7 620.0L521.7 619.9L521.7 619.8L521.8 619.7L521.8 619.6L521.9 619.6L521.9 619.5L521.9 619.4L522.0 619.3L522.0 619.2L522.0 619.1L522.1 619.0L522.1 619.0L522.1 618.9L522.2 618.8L522.2 618.7L522.2 618.6L522.3 618.5L522.3 618.4L522.3 618.4L522.4 618.3L522.4 618.2L522.4 618.1L522.5 618.0L522.5 617.9L522.5 617.8L522.6 617.8L522.6 617.7L522.6 617.6L522.7 617.5L522.7 617.4L522.7 617.3L522.8 617.2L522.8 617.2L522.8 617.1L522.9 617.0L522.9 616.9L522.9 616.8L523.0 616.7L523.0 616.6L523.0 616.6L523.1 616.5L523.1 616.4L523.1 616.3L523.2 616.2L523.2 616.1L523.2 616.0L523.3 616.0L523.3 615.9L523.3 615.8L523.4 615.7L523.4 615.6L523.4 615.5L523.5 615.4L523.5 615.4L523.5 615.3L523.6 615.2L523.6 615.1L523.6 615.0L523.7 614.9L523.7 614.8L523.7 614.8L523.8 614.7L523.8 614.6L523.8 614.5L523.9 614.4L523.9 614.3L523.9 614.2L524.0 614.2L524.0 614.1L524.0 614.0L524.1 613.9L524.1 613.8L524.1 613.7L524.2 613.6L524.2 613.6L524.2 613.5L524.3 613.4L524.3 613.3L524.3 613.2L524.4 613.1L524.4 613.0L524.4 613.0L524.5 612.9L524.5 612.8L524.5 612.7L524.6 612.6L524.6 612.5L524.6 612.4L524.7 612.4L524.7 612.3L524.7 612.2L524.8 612.1L524.8 612.0L524.8 611.9L524.9 611.8L524.9 611.8L524.9 611.7L525.0 611.6L525.0 611.5L525.0 611.4L525.1 611.3L525.1 611.2L525.1 611.2L525.2 611.1L525.2 611.0L525.3 610.8L525.3 610.7L525.3 610.6L525.4 610.5L525.4 610.4L525.4 610.3L525.5 610.2L525.5 610.1L525.5 610.0L525.6 609.9L525.6 609.8L525.6 609.7L525.7 609.6L525.7 609.5L525.7 609.4L525.8 609.3L525.8 609.2L525.8 609.1L525.9 609.0L525.9 608.9L525.9 608.8L526.0 608.7L526.0 608.6L526.0 608.5L526.1 608.4L526.1 608.3L526.1 608.2L526.2 608.0L526.2 607.9L526.2 607.8L526.3 607.7L526.3 607.6L526.3 607.5L526.4 607.4L526.4 607.3L526.4 607.2L526.5 607.1L526.5 607.0L526.5 606.9L526.6 606.8L526.6 606.7L526.6 606.6L526.7 606.5L526.7 606.4L526.7 606.3L526.8 606.2L526.8 606.1L526.8 606.0L526.9 605.9L526.9 605.8L526.9 605.7L527.0 605.6L527.0 605.5L527.0 605.3L527.1 605.2L527.1 605.1L527.1 605.0L527.2 604.9L527.2 604.8L527.2 604.7L527.3 604.6L527.3 604.5L527.3 604.4L527.4 604.3L527.4 604.2L527.4 604.1L527.5 604.0L527.5 603.9L527.5 603.8L527.6 603.7L527.6 603.6L527.6 603.5L527.7 603.4L527.7 603.3L527.7 603.2L527.8 603.1L527.8 603.0L527.8 602.9L527.9 602.8L527.9 602.6L527.9 602.5L528.0 602.4L528.0 602.3L528.0 602.2L528.1 602.1L528.1 602.0L528.1 601.9L528.2 601.8L528.2 601.7L528.2 601.6L528.3 601.5L528.3 601.4L528.3 601.3L528.4 601.2L528.4 601.1L528.4 601.0L528.5 600.9L528.5 600.8L528.6 600.7L528.6 600.6L528.6 600.5L528.7 600.4L528.7 600.3L528.7 600.2L528.8 600.1L528.8 600.0L528.8 599.8L528.9 599.7L528.9 599.6L528.9 599.5L529.0 599.4L529.0 599.2L529.0 599.1L529.1 599.0L529.1 598.9L529.1 598.8L529.2 598.6L529.2 598.5L529.2 598.4L529.3 598.3L529.3 598.2L529.3 598.0L529.4 597.9L529.4 597.8L529.4 597.7L529.5 597.6L529.5 597.4L529.5 597.3L529.6 597.2L529.6 597.1L529.6 597.0L529.7 596.8L529.7 596.7L529.7 596.6L529.8 596.5L529.8 596.4L529.8 596.2L529.9 596.1L529.9 596.0L529.9 595.9L530.0 595.8L530.0 595.6L530.0 595.5L530.1 595.4L530.1 595.3L530.1 595.2L530.2 595.0L530.2 594.9L530.2 594.8L530.3 594.7L530.3 594.6L530.3 594.4L530.4 594.3L530.4 594.2L530.4 594.1L530.5 594.0L530.5 593.8L530.5 593.7L530.6 593.6L530.6 593.5L530.6 593.4L530.7 593.2L530.7 593.1L530.7 593.0L530.8 592.9L530.8 592.8L530.8 592.6L530.9 592.5L530.9 592.4L530.9 592.3L531.0 592.2L531.0 592.0L531.0 591.9L531.1 591.8L531.1 591.7L531.1 591.6L531.2 591.4L531.2 591.3L531.2 591.2L531.3 591.1L531.3 591.0L531.3 590.8L531.4 590.7L531.4 590.6L531.4 590.5L531.5 590.4L531.5 590.2L531.5 590.1L531.6 590.0L531.6 589.9L531.6 589.8L531.7 589.6L531.7 589.5L531.7 589.4L531.8 589.3L531.8 589.2L531.9 589.0L531.9 588.9L531.9 588.8L532.0 588.7L532.0 588.6L532.0 588.4L532.1 588.3L532.1 588.2L532.1 588.1L532.2 588.0L532.2 587.8L532.2 587.7L532.3 587.6L532.3 587.5L532.3 587.4L532.4 587.2L532.4 587.1L532.4 587.0L532.5 586.9L532.5 586.8L532.5 586.6L532.6 586.5L532.6 586.4L532.6 586.3L532.7 586.2L532.7 586.0L532.7 585.9L532.8 585.8L532.8 585.7L532.8 585.6L532.9 585.4L532.9 585.3L532.9 585.2L533.0 585.1L533.0 585.0L533.0 584.8L533.1 584.7L533.1 584.6L533.1 584.5L533.2 584.4L533.2 584.2L533.2 584.1L533.3 584.0L533.3 583.9L533.3 583.8L533.4 583.6L533.4 583.5L533.4 583.4L533.5 583.3L533.5 583.2L533.5 583.0L533.6 582.9L533.6 582.8L533.6 582.7L533.7 582.6L533.7 582.4L533.7 582.3L533.8 582.2L533.8 582.1L533.8 582.0L533.9 581.8L533.9 581.7L533.9 581.6L534.0 581.5L534.0 581.4L534.0 581.2L534.1 581.1L534.1 580.9L534.1 580.8L534.2 580.6L534.2 580.5L534.2 580.4L534.3 580.2L534.3 580.1L534.3 579.9L534.4 579.8L534.4 579.6L534.4 579.5L534.5 579.3L534.5 579.2L534.5 579.0L534.6 578.9L534.6 578.7L534.6 578.6L534.7 578.4L534.7 578.3L534.7 578.2L534.8 578.0L534.8 577.9L534.8 577.7L534.9 577.6L534.9 577.4L534.9 577.3L535.0 577.1L535.0 577.0L535.0 576.8L535.1 576.7L535.1 576.5L535.2 576.4L535.2 576.3L535.2 576.1L535.3 576.0L535.3 575.8L535.3 575.7L535.4 575.5L535.4 575.4L535.4 575.2L535.5 575.1L535.5 574.9L535.5 574.8L535.6 574.6L535.6 574.5L535.6 574.3L535.7 574.2L535.7 574.1L535.7 573.9L535.8 573.8L535.8 573.6L535.8 573.5L535.9 573.3L535.9 573.2L535.9 573.0L536.0 572.9L536.0 572.7L536.0 572.6L536.1 572.4L536.1 572.3L536.1 572.1L536.2 572.0L536.2 571.9L536.2 571.7L536.3 571.6L536.3 571.4L536.3 571.3L536.4 571.1L536.4 571.0L536.4 570.8L536.5 570.7L536.5 570.5L536.5 570.4L536.6 570.2L536.6 570.1L536.6 570.0L536.7 569.8L536.7 569.7L536.7 569.5L536.8 569.4L536.8 569.2L536.8 569.1L536.9 568.9L536.9 568.7L536.9 568.5L537.0 568.3L537.0 568.1L537.0 567.9L537.1 567.7L537.1 567.5L537.1 567.3L537.2 567.1L537.2 566.9L537.2 566.7L537.3 566.5L537.3 566.3L537.3 566.1L537.4 565.9L537.4 565.7L537.4 565.5L537.5 565.3L537.5 565.1L537.5 564.9L537.6 564.7L537.6 564.5L537.6 564.3L537.7 564.1L537.7 563.9L537.7 563.7L537.8 563.5L537.8 563.3L537.8 563.1L537.9 562.9L537.9 562.7L537.9 562.6L538.0 562.4L538.0 562.2L538.0 562.0L538.1 561.8L538.1 561.6L538.1 561.4L538.2 561.2L538.2 561.0L538.2 560.8L538.3 560.6L538.3 560.4L538.3 560.2L538.4 560.0L538.4 559.8L538.5 559.6L538.5 559.4L538.5 559.2L538.6 559.0L538.6 558.8L538.6 558.6L538.7 558.4L538.7 558.2L538.7 558.0L538.8 557.8L538.8 557.6L538.8 557.4L538.9 557.2L538.9 557.0L538.9 556.8L539.0 556.6L539.0 556.4L539.0 556.2L539.1 556.0L539.1 555.8L539.1 555.6L539.2 555.4L539.2 555.2L539.2 555.0L539.3 554.9L539.3 554.7L539.3 554.5L539.4 554.3L539.4 554.1L539.4 553.9L539.5 553.7L539.5 553.5L539.5 553.3L539.6 553.1L539.6 552.9L539.6 552.7L539.7 552.5L539.7 552.3L539.7 552.1L539.8 551.9L539.8 551.7L539.8 551.4L539.9 551.2L539.9 551.0L539.9 550.7L540.0 550.5L540.0 550.3L540.0 550.1L540.1 549.8L540.1 549.6L540.1 549.4L540.2 549.2L540.2 548.9L540.2 548.7L540.3 548.5L540.3 548.3L540.3 548.0L540.4 547.8L540.4 547.6L540.4 547.4L540.5 547.1L540.5 546.9L540.5 546.7L540.6 546.5L540.6 546.2L540.6 546.0L540.7 545.8L540.7 545.6L540.7 545.3L540.8 545.1L540.8 544.9L540.8 544.7L540.9 544.4L540.9 544.2L540.9 544.0L541.0 543.8L541.0 543.5L541.0 543.3L541.1 543.1L541.1 542.9L541.1 542.6L541.2 542.4L541.2 542.2L541.2 541.9L541.3 541.6L541.3 541.3L541.3 541.0L541.4 540.7L541.4 540.4L541.4 540.1L541.5 539.8L541.5 539.5L541.5 539.2L541.6 538.9L541.6 538.6L541.6 538.3L541.7 538.0L541.7 537.7L541.8 537.4L541.8 537.1L541.8 536.8L541.9 536.5L541.9 536.2L541.9 535.9L542.0 535.6L542.0 535.3L542.0 535.0L542.1 534.7L542.1 534.3L542.1 534.0L542.2 533.7L542.2 533.4L542.2 533.1L542.3 532.8L542.3 532.5L542.3 532.0L542.4 531.3L542.4 530.5L542.4 529.8L542.5 529.0L542.5 528.2L542.5 527.5L542.6 526.7L542.6 526.0L542.6 525.2L542.7 524.5L542.7 523.7L542.7 523.0L542.8 522.2L542.8 521.5L542.8 520.7L542.9 519.9L542.9 518.7L542.9 517.6L543.0 516.5L543.0 515.4L543.0 514.2L543.1 513.1L543.1 512.0" fill="none" stroke="#f9494d" stroke-width="1.55" stroke-linejoin="round"/>
<path d="M543.1 510.9h0M543.2 509.7h0M543.2 508.6h0M543.2 506.7h0M543.3 503.6h0M543.3 500.5h0M543.3 497.4h0M543.4 494.4h0M543.4 491.3h0" fill="none" stroke="#f9494d" stroke-width="1.35" stroke-linecap="round"/>
<path d="M546.8 570.7L546.9 568.2L547.1 567.3L547.2 566.4L547.3 565.6L547.5 564.7L547.6 563.8L547.7 562.9L547.8 562.1L548.0 561.2L548.1 560.3L548.2 559.5L548.3 558.9L548.5 558.3L548.6 557.8L548.7 557.2L548.8 556.6L549.0 556.1L549.1 555.5L549.2 555.0L549.3 554.4L549.5 553.9L549.6 553.3L549.7 552.8L549.9 552.2L550.0 551.7L550.1 551.1L550.2 550.5L550.4 550.0L550.5 549.4L550.6 548.9L550.7 548.3L550.9 547.9L551.0 547.6L551.1 547.2L551.2 546.9L551.4 546.6L551.5 546.3L551.6 545.9L551.8 545.6L551.9 545.3L552.0 545.0L552.1 544.6L552.3 544.3L552.4 544.0L552.5 543.7L552.6 543.3L552.8 543.0L552.9 542.7L553.0 542.4L553.1 542.0L553.3 541.7L553.4 541.4L553.5 541.1L553.7 540.7L553.8 540.4L553.9 540.1L554.0 539.9L554.2 539.7L554.3 539.5L554.4 539.3L554.5 539.1L554.7 538.9L554.8 538.6L554.9 538.4L555.0 538.2L555.2 538.0L555.3 537.8L555.4 537.6L555.6 537.4L555.7 537.2L555.8 536.9L555.9 536.7L556.1 536.5L556.2 536.3L556.3 536.1L556.4 535.9L556.6 535.7L556.7 535.5L556.8 535.2L556.9 535.0L557.1 534.8L557.2 534.6L557.3 534.4L557.4 534.2L557.6 534.0L557.7 533.8L557.8 533.5L558.0 533.3L558.1 533.1L558.2 532.9L558.3 532.7L558.5 532.5L558.6 532.3L558.7 532.1L558.8 531.8L559.0 531.6L559.1 531.4L559.2 531.2L559.3 531.0L559.5 530.8L559.6 530.5L559.7 530.3L559.9 530.1L560.0 529.9L560.1 529.7L560.2 529.5L560.4 529.2L560.5 529.0L560.6 528.8L560.7 528.6L560.9 528.4L561.0 528.1L561.1 527.9L561.2 527.7L561.4 527.5L561.5 527.3L561.6 527.1L561.8 526.8L561.9 526.6L562.0 526.4L562.1 526.2L562.3 526.0L562.4 525.8L562.5 525.5L562.6 525.3L562.8 525.1L562.9 524.9L563.0 524.7L563.1 524.5L563.3 524.2L563.4 524.0L563.5 523.8L563.6 523.6L563.8 523.4L563.9 523.2L564.0 522.9L564.2 522.7L564.3 522.5L564.4 522.3L564.5 522.1L564.7 521.8L564.8 521.6L564.9 521.4L565.0 521.2L565.2 520.9L565.3 520.7L565.4 520.5L565.5 520.3L565.7 520.1L565.8 519.8L565.9 519.6L566.1 519.4L566.2 519.2L566.3 519.0L566.4 518.7L566.6 518.5L566.7 518.3L566.8 518.1L566.9 517.9L567.1 517.6L567.2 517.4L567.3 517.2L567.4 517.0L567.6 516.8L567.7 516.5L567.8 516.3L568.0 516.1L568.1 515.9L568.2 515.7L568.3 515.4L568.5 515.2L568.6 515.0L568.7 514.8L568.8 514.6L569.0 514.4L569.1 514.2L569.2 513.9L569.3 513.7L569.5 513.5L569.6 513.3L569.7 513.1L569.9 512.9L570.0 512.7L570.1 512.5L570.2 512.3L570.4 512.1L570.5 511.8L570.6 511.6L570.7 511.4L570.9 511.2L571.0 511.0L571.1 510.8L571.2 510.6L571.4 510.4L571.5 510.2L571.6 509.9L571.7 509.7L571.9 509.5L572.0 509.3L572.1 509.1L572.3 508.9L572.4 508.7L572.5 508.5L572.6 508.3L572.8 508.0L572.9 507.8L573.0 507.5L573.1 507.2L573.3 506.9L573.4 506.6L573.5 506.3L573.6 506.0L573.8 505.7L573.9 505.4L574.0 505.1L574.2 504.8L574.3 504.4L574.4 504.1L574.5 503.8L574.7 503.5L574.8 503.2L574.9 502.9L575.0 502.6L575.2 502.3L575.3 502.0L575.4 501.7L575.5 501.4L575.7 501.1L575.8 500.8L575.9 500.5L576.1 500.2L576.2 499.9L576.3 499.6L576.4 499.3L576.6 498.9L576.7 498.5L576.8 498.1L576.9 497.7L577.1 497.3L577.2 496.9L577.3 496.5L577.4 496.1L577.6 495.7L577.7 495.2L577.8 494.8L578.0 494.4L578.1 494.0L578.2 493.6L578.3 493.2L578.5 492.8L578.6 492.4L578.7 492.0L578.8 491.6L579.0 491.1L579.1 490.7L579.2 490.1L579.3 489.4L579.5 488.8L579.6 488.2L579.7 487.5L579.8 486.9L580.0 486.3L580.1 485.6L580.2 485.0L580.4 484.4L580.5 483.7L580.6 482.9L580.7 481.9L580.9 480.8L581.0 479.8L581.1 478.8L581.2 477.8L581.4 476.8L581.5 475.5" fill="none" stroke="#1fa84c" stroke-width="1.75" stroke-linejoin="round"/>
<path d="M545.3 621.9h0M545.4 608.0h0M545.6 605.1h0M545.7 602.5h0M545.8 598.7h0M545.9 593.7h0M546.1 588.0h0M546.2 584.6h0M546.3 581.2h0M546.4 578.1h0M546.6 575.7h0M546.7 573.2h0M581.6 473.7h0M581.7 471.9h0M581.9 470.1h0M582.0 468.3h0" fill="none" stroke="#1fa84c" stroke-width="1.6" stroke-linecap="round"/>
<line x1="508.3" y1="610.9" x2="543.1" y2="610.9" stroke="#111" stroke-width="1.7"/><line x1="546" y1="522.9" x2="581" y2="522.9" stroke="#111" stroke-width="1.7"/>
<path d="M582.5 434.6V778.5" fill="none" stroke="#3a3a3a" stroke-width="1"/><path d="M582.6 434.6H506.5V778.5H582.6" fill="none" stroke="#1a1a1a" stroke-width="1.2"/>
<line x1="501.6" y1="777.0" x2="506.5" y2="777.0" stroke="#111" stroke-width="0.9"/><text x="499" y="780.6" text-anchor="end" font-size="10.2">0</text>
<line x1="501.6" y1="728.1" x2="506.5" y2="728.1" stroke="#111" stroke-width="0.9"/><text x="499" y="731.7" text-anchor="end" font-size="10.2">1</text>
<line x1="501.6" y1="679.2" x2="506.5" y2="679.2" stroke="#111" stroke-width="0.9"/><text x="499" y="682.8" text-anchor="end" font-size="10.2">2</text>
<line x1="501.6" y1="630.2" x2="506.5" y2="630.2" stroke="#111" stroke-width="0.9"/><text x="499" y="633.8" text-anchor="end" font-size="10.2">3</text>
<line x1="501.6" y1="581.3" x2="506.5" y2="581.3" stroke="#111" stroke-width="0.9"/><text x="499" y="584.9" text-anchor="end" font-size="10.2">4</text>
<line x1="501.6" y1="532.4" x2="506.5" y2="532.4" stroke="#111" stroke-width="0.9"/><text x="499" y="536.0" text-anchor="end" font-size="10.2">5</text>
<line x1="501.6" y1="483.5" x2="506.5" y2="483.5" stroke="#111" stroke-width="0.9"/><text x="499" y="487.1" text-anchor="end" font-size="10.2">6</text>
<line x1="501.6" y1="434.6" x2="506.5" y2="434.6" stroke="#111" stroke-width="0.9"/><text x="499" y="438.2" text-anchor="end" font-size="10.2">7</text>
<text transform="translate(456.4,613) rotate(-90)" text-anchor="middle" font-size="16.3">Transcripts Per Million (TPM)</text>
<text transform="translate(527.5,785.3) rotate(-45)" text-anchor="end" font-size="10">T (n=1085)</text>
<text transform="translate(564.5,785.8) rotate(-45)" text-anchor="end" font-size="10">N (n=291)</text>
</svg>
</body></html>
